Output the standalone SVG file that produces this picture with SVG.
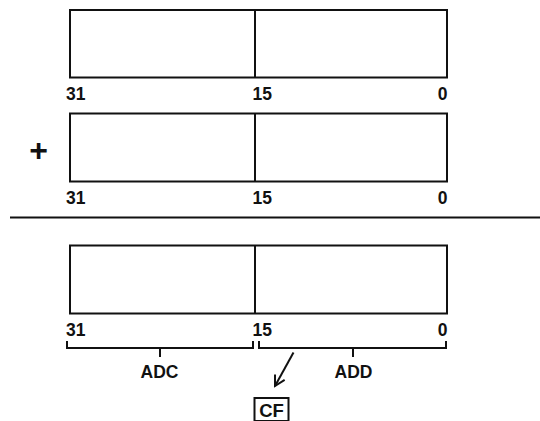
<svg xmlns="http://www.w3.org/2000/svg" width="540" height="421" viewBox="0 0 540 421">
<style>
.box{fill:#fff;stroke:#111;stroke-width:2}
.ln{fill:none;stroke:#111;stroke-width:2}
.t{font-family:"Liberation Sans",Arial,sans-serif;font-weight:bold;font-size:17.5px;fill:#111}
</style>
<defs>
<marker id="ah" viewBox="0 0 14 14" refX="12" refY="7" markerWidth="14" markerHeight="14" markerUnits="userSpaceOnUse" orient="auto">
<path d="M2,1.5 L12,7 L2,12.5" fill="none" stroke="#111" stroke-width="2"/>
</marker>
</defs>
<rect width="540" height="421" fill="#fff"/>
<g id="reg1">
<rect class="box" x="70" y="10" width="377" height="67.5"/>
<line class="ln" x1="255" y1="10" x2="255" y2="77.5"/>
<text class="t" x="66" y="100">31</text>
<text class="t" x="252.5" y="100">15</text>
<text class="t" x="447.5" y="100" text-anchor="end">0</text>
</g>
<g id="plus">
<text class="t" x="38.5" y="161" text-anchor="middle" style="font-size:32px">+</text>
</g>
<g id="reg2">
<rect class="box" x="70" y="113.5" width="377" height="68"/>
<line class="ln" x1="255" y1="113.5" x2="255" y2="181.5"/>
<text class="t" x="66" y="203.5">31</text>
<text class="t" x="252.5" y="203.5">15</text>
<text class="t" x="447.5" y="203.5" text-anchor="end">0</text>
</g>
<g id="rule">
<line class="ln" x1="10" y1="217.5" x2="540" y2="217.5"/>
</g>
<g id="reg3">
<rect class="box" x="70" y="245.5" width="377" height="68"/>
<line class="ln" x1="255" y1="245.5" x2="255" y2="313.5"/>
<text class="t" x="66" y="335.5">31</text>
<text class="t" x="252.5" y="335.5">15</text>
<text class="t" x="447.5" y="335.5" text-anchor="end">0</text>
</g>
<g id="adc">
<path class="ln" d="M67,341 V348 H253 V341 M160,348 V357"/>
<text class="t" x="159.5" y="377.5" text-anchor="middle">ADC</text>
</g>
<g id="add">
<path class="ln" d="M259,341 V348 H446 V341 M353,348 V357"/>
<text class="t" x="353.5" y="377.5" text-anchor="middle">ADD</text>
</g>
<g id="cf">
<rect class="box" x="254.5" y="398" width="34" height="23"/>
<text class="t" x="271.5" y="417" text-anchor="middle" style="font-size:18.5px">CF</text>
</g>
<g id="connectors">
<line class="ln" x1="293.5" y1="352.5" x2="275" y2="386" marker-end="url(#ah)"/>
</g>
</svg>
